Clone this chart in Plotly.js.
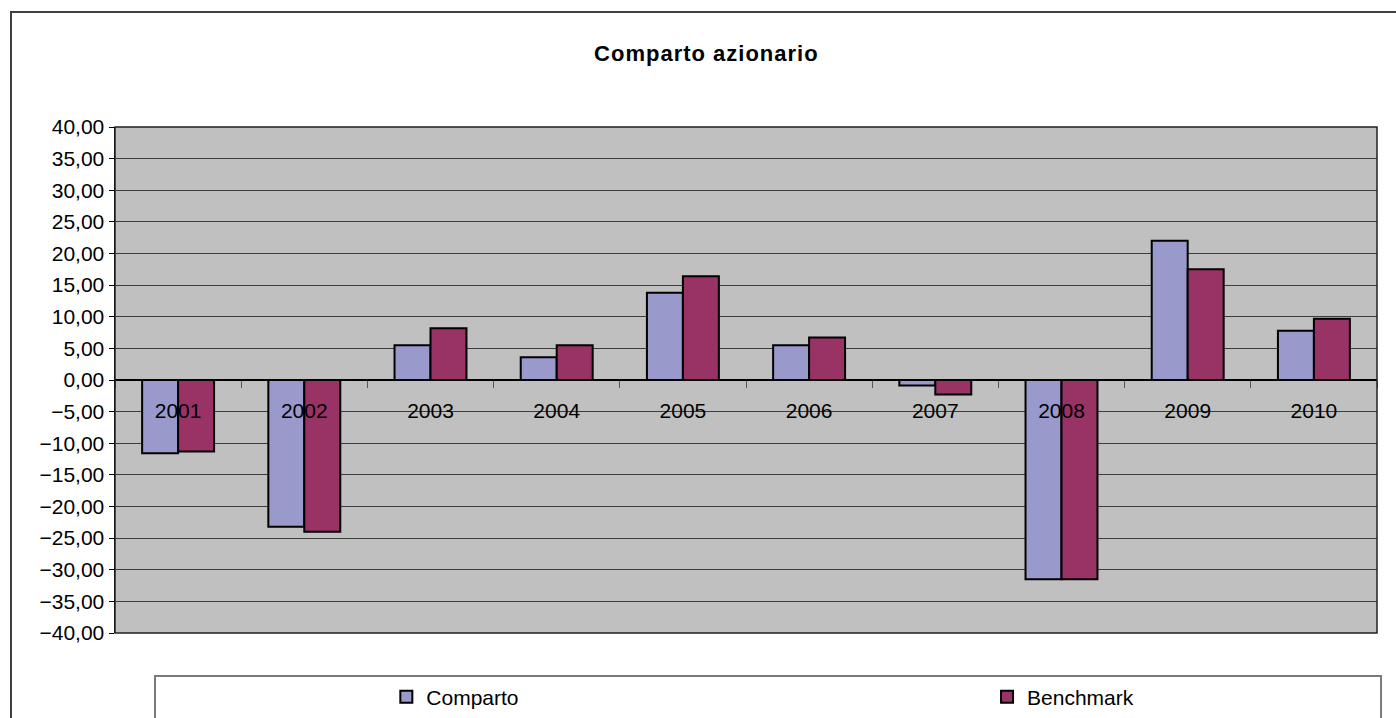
<!DOCTYPE html>
<html>
<head>
<meta charset="utf-8">
<script src="https://cdn.plot.ly/plotly-3.0.1.min.js"></script>
<style>
  html, body { margin: 0; padding: 0; background: #ffffff; }
  #chart { width: 1396px; height: 718px; }
  .gtitle { letter-spacing: 1px; }
</style>
</head>
<body>
<div id="chart"></div>
<script>
// ---- data ----
const years = ['2001','2002','2003','2004','2005','2006','2007','2008','2009','2010'];
const comparto = [-11.6, -23.2, 5.5, 3.6, 13.8, 5.5, -0.85, -31.5, 22.0, 7.8];
const benchmark = [-11.3, -24.0, 8.2, 5.5, 16.4, 6.7, -2.3, -31.5, 17.5, 9.7];
const seriesNames = ['Comparto', 'Benchmark'];
const chartTitle = 'Comparto azionario';

const FONT = 'Liberation Sans, Arial, sans-serif';

const traces = [
  {
    type: 'bar', name: seriesNames[0], x: years, y: comparto,
    marker: { color: '#9999cc', line: { color: '#000000', width: 2 } },
    legend: 'legend',
    hoverinfo: 'skip'
  },
  {
    type: 'bar', name: seriesNames[1], x: years, y: benchmark,
    marker: { color: '#993366', line: { color: '#000000', width: 2 } },
    legend: 'legend2',
    hoverinfo: 'skip'
  }
];

const legendCommon = {
  orientation: 'h',
  xanchor: 'left',
  y: -0.1265, yanchor: 'middle',
  bgcolor: 'rgba(0,0,0,0)', borderwidth: 0,
  font: { size: 21, family: FONT, color: '#000000' }
};

const layout = {
  width: 1396, height: 718,
  margin: { l: 115, r: 19, t: 127, b: 85, autoexpand: false },
  paper_bgcolor: '#ffffff',
  plot_bgcolor: '#c0c0c0',
  separators: ',.',
  barmode: 'group',
  bargap: 0.43,
  bargroupgap: 0,
  font: { family: FONT, color: '#000000' },
  title: {
    text: '<b>' + chartTitle + '</b>',
    font: { size: 22, family: FONT, color: '#000000' },
    xref: 'container', x: 0.506, xanchor: 'center',
    yref: 'container', y: 0.926, yanchor: 'middle'
  },
  xaxis: {
    type: 'category',
    anchor: 'free', position: 0.5,
    showgrid: false, zeroline: false, showline: false,
    ticks: 'outside', tickson: 'boundaries', ticklen: 7, tickwidth: 1, tickcolor: '#555555',
    tickfont: { size: 21, family: FONT, color: '#000000' },
    ticklabelstandoff: 16
  },
  yaxis: {
    range: [-40, 40], dtick: 5, tick0: 0,
    tickformat: '.2f',
    showgrid: true, gridcolor: '#3c3c3c', gridwidth: 1,
    zeroline: true, zerolinecolor: '#000000', zerolinewidth: 1.5,
    showline: true, linecolor: '#000000', linewidth: 1.5,
    ticks: 'outside', ticklen: 5, tickcolor: '#000000',
    tickfont: { size: 21, family: FONT, color: '#000000' }
  },
  showlegend: true,
  legend: Object.assign({}, legendCommon, { x: 0.215 }),
  legend2: Object.assign({}, legendCommon, { x: 0.691 }),
  shapes: [
    // plot area border
    { type: 'rect', xref: 'paper', yref: 'paper', x0: 0, x1: 1, y0: 0, y1: 1,
      line: { color: '#222222', width: 1.5 }, fillcolor: 'rgba(0,0,0,0)', layer: 'above' },
    // outer chart border
    { type: 'rect', xref: 'paper', yref: 'paper', x0: -0.0824, x1: 1.03, y0: -0.2, y1: 1.2273,
      line: { color: '#404040', width: 2 }, fillcolor: 'rgba(0,0,0,0)', layer: 'below' },
    // legend box
    { type: 'rect', xref: 'paper', yref: 'paper', x0: 0.0317, x1: 1.0032, y0: -0.25, y1: -0.085,
      line: { color: '#7a7a7a', width: 2 }, fillcolor: 'rgba(0,0,0,0)', layer: 'below' }
  ]
};

Plotly.newPlot('chart', traces, layout, { displayModeBar: false, staticPlot: true });
</script>
</body>
</html>
